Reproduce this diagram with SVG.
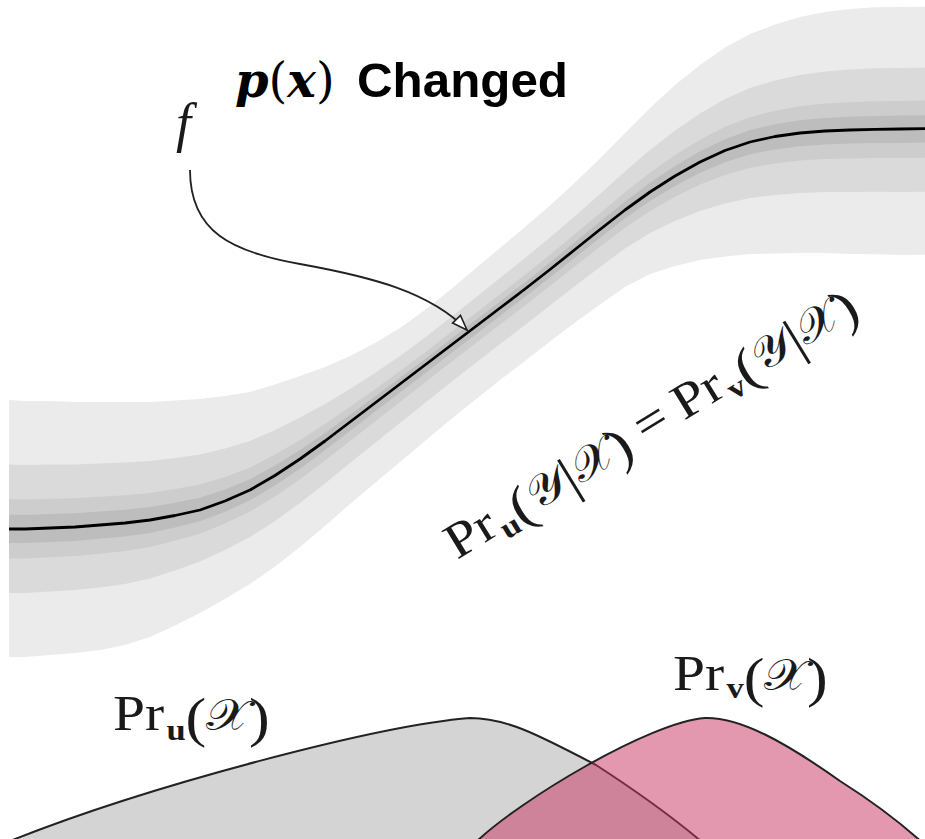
<svg xmlns="http://www.w3.org/2000/svg" width="925" height="839" viewBox="0 0 925 839">
<style>
.serif{font-family:"Liberation Serif","DejaVu Serif",serif;fill:#1a1a1a}
.cal{font-family:"DejaVu Serif","DejaVu Sans","Noto Sans",serif;fill:#1a1a1a}
.sub{font-family:"Liberation Serif","DejaVu Serif",serif;font-weight:bold}
.outline{stroke:#222;stroke-width:2;stroke-linejoin:round}
</style>
<defs>
<marker id="ah" markerUnits="userSpaceOnUse" markerWidth="20" markerHeight="16" refX="17" refY="8" orient="auto">
<path d="M2,2.5 L17,8 L2,13.5 Z" fill="#fff" stroke="#222" stroke-width="1.6" stroke-linejoin="miter"/>
</marker>
</defs>
<rect width="925" height="839" fill="#fff"/>
<g id="uncertainty-band">
<polygon fill="#ebebeb" points="9,400 25,401 50,401 75,402 100,402 125,402 150,402 175,400.5 200,399 225,396 250,392 275,384.5 300,376 325,367 350,356 375,343 400,328 425,310 450,290 475,269 500,248 525,227 550,205.5 575,182.5 600,158.5 625,133 650,108 675,85 700,65 725,47.5 750,34 775,24.5 800,17 825,12 850,9 875,7.3 900,7 926,6.7 926,254.7 900,255 875,254.3 850,254 825,253 800,253 775,253.5 750,254 725,256.5 700,260 675,266 650,274 625,287 600,304.5 575,322.5 550,341.5 525,361 500,380 475,400 450,420 425,441 400,462 375,483 350,504 325,526 300,547 275,566.5 250,584 225,599 200,613 175,625.5 150,637 125,645 100,650 75,653 50,655 25,657 9,657"/>
<polygon fill="#dadada" points="9,464.5 25,465 50,464.5 75,464.5 100,463.5 125,462.5 150,461 175,458 200,454.5 225,448.5 250,441 275,430 300,417.5 325,404 350,389 375,373 400,356 425,337.5 450,318 475,298 500,278 525,258 550,237.5 575,216 600,194 625,171.5 650,150 675,130.5 700,113.5 725,99 750,88 775,80.5 800,75 825,71.5 850,69.5 875,68.3 900,68 926,67.7 926,191.7 900,192 875,191.8 850,192 825,192 800,193 775,195 750,198 725,203.5 700,211 675,221 650,233 625,248.5 600,267 575,286 550,305.5 525,325 500,344 475,363.5 450,383 425,403 400,423 375,443 350,463 325,483.5 300,503 275,521 250,537 225,550 200,561.5 175,570.5 150,578.5 125,584 100,587.5 75,590 50,591.5 25,593 9,593"/>
<polygon fill="#cdcdcd" points="9,499.3 25,499.6 50,498.8 75,498.3 100,496.7 125,495.2 150,492.9 175,489 200,484.5 225,476.9 250,467.5 275,454.6 300,439.9 325,424 350,406.8 375,389.2 400,371.1 425,352.4 450,333.1 475,313.7 500,294.2 525,274.7 550,254.8 575,234.1 600,213.2 625,192.3 650,172.7 675,155.1 700,139.7 725,126.8 750,117.2 775,110.7 800,106.3 825,103.6 850,102.2 875,101.2 900,100.9 926,100.6 926,157.7 900,158 875,158 850,158.5 825,159.1 800,160.6 775,163.4 750,167.8 725,174.9 700,184.5 675,196.7 650,210.9 625,227.7 600,246.75 575,266.3 550,286.1 525,305.6 500,324.6 475,343.8 450,363 425,382.5 400,401.9 375,421.4 350,440.9 325,460.6 300,479.2 275,496.4 250,511.6 225,523.5 200,533.7 175,540.8 150,546.9 125,551.1 100,553.75 75,556 50,557.2 25,558.4 9,558.4"/>
<polygon fill="#bdbdbd" points="9,514.8 25,514.9 50,514 75,513.25 100,511.5 125,509.7 150,507 175,502.85 200,497.8 225,489.45 250,479.2 275,465.5 300,449.9 325,432.9 350,414.7 375,396.4 400,377.8 425,359 450,339.8 475,320.6 500,301.4 525,282.2 550,262.5 575,242.1 600,221.7 625,201.5 650,182.8 675,166 700,151.3 725,139.2 750,130.1 775,124.2 800,120.2 825,117.9 850,116.7 875,115.9 900,115.6 926,115.3 926,142.6 900,142.9 875,143 850,143.6 825,144.4 800,146.2 775,149.4 750,154.3 725,162.2 700,172.8 675,185.9 650,201 625,218.5 600,237.75 575,257.5 550,277.4 525,296.9 500,315.9 475,335 450,354.1 425,373.4 400,392.6 375,411.8 350,431 325,450.35 300,468.7 275,485.5 250,500.3 225,511.8 200,521.3 175,527.6 150,532.9 125,536.4 100,538.75 75,540.9 50,542 25,543.1 9,543.1"/>
</g>
<g id="mean-curve">
<polyline fill="none" stroke="#000" stroke-width="2.8" stroke-linejoin="round" points="9,529 25,529 50,528 75,527 100,525 125,523 150,520 175,515.5 200,510 225,501 250,490 275,475.5 300,459 325,441 350,422 375,403 400,384 425,365 450,346 475,327 500,308 525,289 550,269.5 575,249.5 600,229.5 625,210 650,192 675,176 700,162 725,150.5 750,142 775,136.5 800,133 825,131 850,130 875,129.3 900,129 926,128.7"/>
</g>
<g id="distributions">
<path id="pr-u" class="outline" fill="#d4d4d4" d="M10,841 C150,785 380,725 470,718 C505,718 535,733 596,765 C630,787 670,815 702,842 L702,848 L10,848 Z"/>
<path id="pr-v" class="outline" fill="rgb(202,52,101)" fill-opacity="0.51" d="M476,842 C520,800 650,722 705,718 C740,717 785,742 840,781 C870,800 900,822 925,845 L930,848 L476,848 Z"/>
</g>
<g id="connectors">
<path d="M190,170 C190,232 232,252 300,264 C372,277 430,292 467,330" fill="none" stroke="#222" stroke-width="1.8" marker-end="url(#ah)"/>
</g>
<g id="label-title">
<text y="97" font-size="48" fill="#000"><tspan x="235" font-family="'DejaVu Serif',serif" font-weight="bold" font-style="italic">p</tspan><tspan font-family="'DejaVu Serif',serif">(</tspan><tspan font-family="'DejaVu Serif',serif" font-weight="bold" font-style="italic">x</tspan><tspan font-family="'DejaVu Serif',serif">)</tspan></text>
<text x="357" y="97" font-family="'Liberation Sans','Noto Sans',sans-serif" font-weight="bold" font-size="49" fill="#000" textLength="211" lengthAdjust="spacingAndGlyphs">Changed</text>
</g>
<g id="label-f">
<text class="serif" x="176" y="141" font-size="54" font-style="italic">f</text>
</g>
<g id="label-conditional" transform="translate(457,560) rotate(-31.5) scale(1.15,1)">
<text class="serif" y="0" font-size="50">Pr<tspan class="sub" dx="2" y="9" font-size="30">u</tspan><tspan y="5" font-size="54">(</tspan><tspan class="cal" y="0" font-size="44">𝒴</tspan><tspan y="5" font-size="54">|</tspan><tspan class="cal" y="0" font-size="44">𝒳</tspan><tspan y="5" font-size="54">)</tspan><tspan dx="11" y="-1" font-size="50">=</tspan><tspan dx="11" y="0" font-size="50">Pr</tspan><tspan class="sub" dx="2" y="9" font-size="30">v</tspan><tspan y="5" font-size="54">(</tspan><tspan class="cal" y="0" font-size="44">𝒴</tspan><tspan y="5" font-size="54">|</tspan><tspan class="cal" y="0" font-size="44">𝒳</tspan><tspan y="5" font-size="54">)</tspan></text>
</g>
<g id="label-pr-u" transform="translate(113,730) scale(1.15,1)">
<text class="serif" y="0" font-size="50">Pr<tspan class="sub" dx="2" y="10" font-size="30">u</tspan><tspan y="6" font-size="54">(</tspan><tspan class="cal" y="0" font-size="44">𝒳</tspan><tspan y="6" font-size="54">)</tspan></text>
</g>
<g id="label-pr-v" transform="translate(673,690) scale(1.15,1)">
<text class="serif" y="0" font-size="50">Pr<tspan class="sub" dx="2" y="8" font-size="30">v</tspan><tspan y="6" font-size="54">(</tspan><tspan class="cal" y="0" font-size="44">𝒳</tspan><tspan y="6" font-size="54">)</tspan></text>
</g>
</svg>
